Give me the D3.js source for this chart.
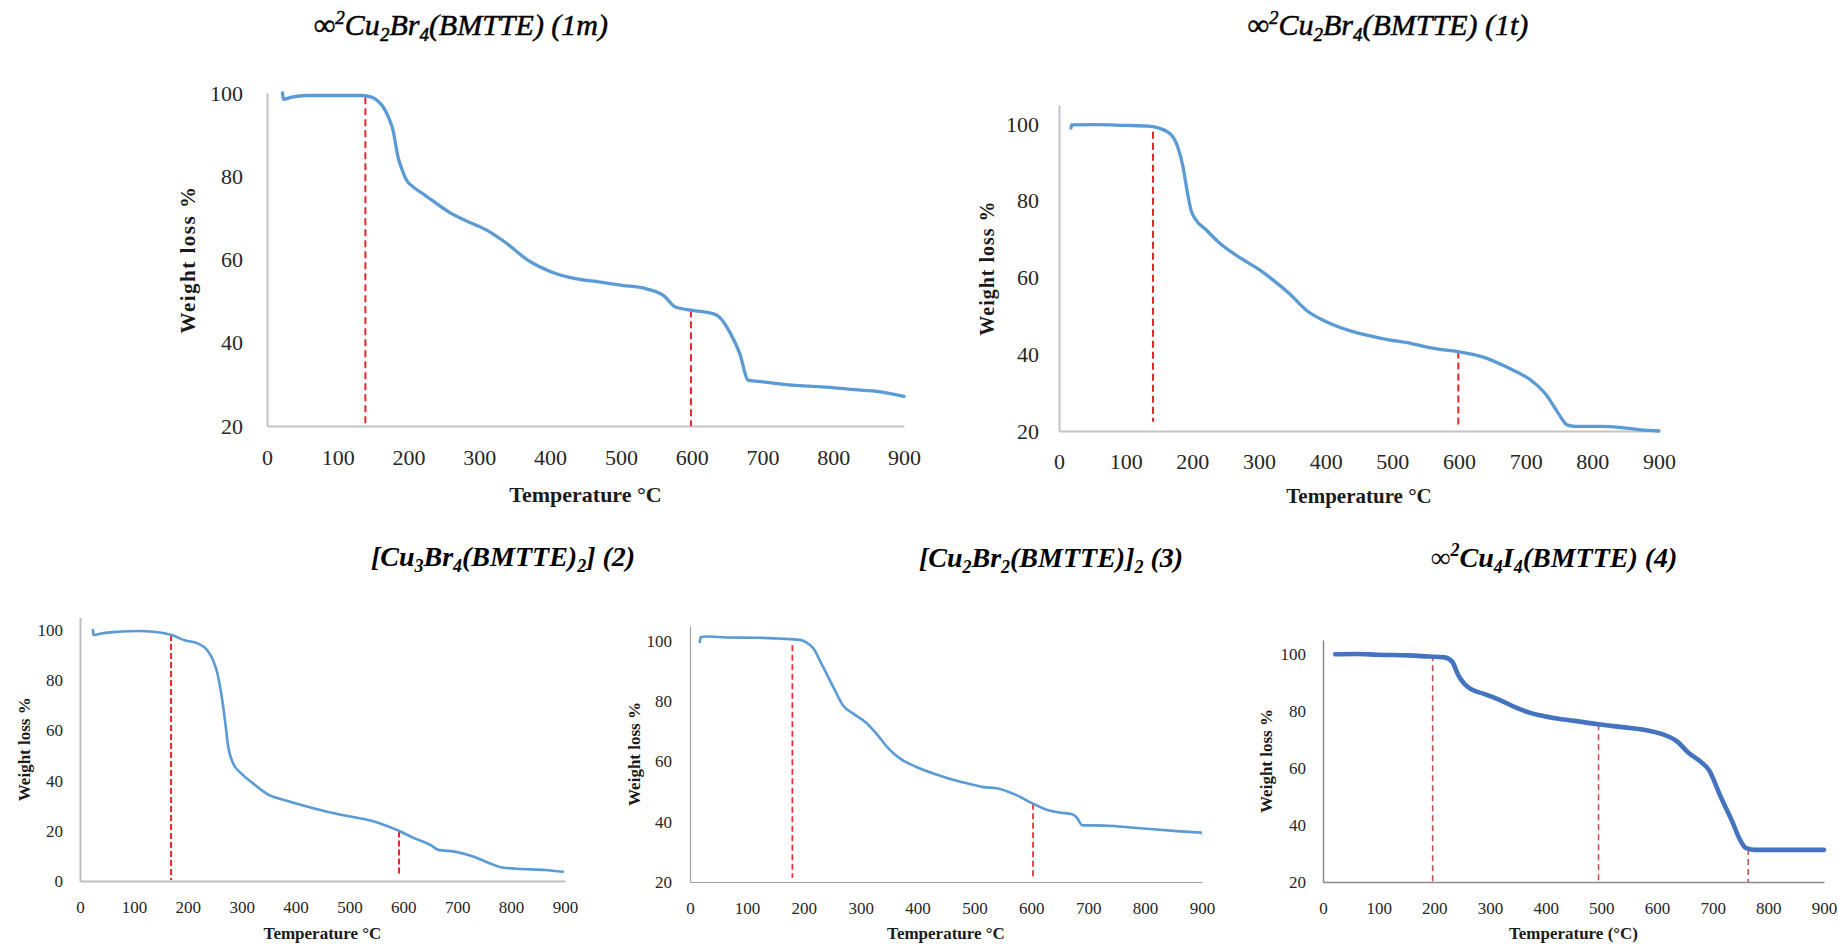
<!DOCTYPE html>
<html>
<head>
<meta charset="utf-8">
<script src="https://cdn.jsdelivr.net/npm/d3@7"></script>
<style>
  body { margin: 0; background: #fff; }
  text { font-family: "Liberation Serif", "Times New Roman", serif; }
</style>
</head>
<body>
<script>
// tick values shared by all five panels
let xTicks = [0, 100, 200, 300, 400, 500, 600, 700, 800, 900]
let yTicks20 = [20, 40, 60, 80, 100]
let yTicks0 = [0, 20, 40, 60, 80, 100]

// (1m)
let temp1m = [22, 23, 35, 56, 90, 134, 148, 157, 164, 172, 178, 185, 191, 197, 206, 222, 259, 280, 311, 336,
  369, 402, 436, 469, 502, 535, 560, 577, 601, 630, 639, 655, 668, 680, 701, 742, 784, 825, 867, 900]
let weight1m = [100, 98.5, 99.0, 99.4, 99.4, 99.4, 99.0, 98.0, 96.7, 94.0, 91.1, 84.7, 81.5, 79.1, 77.5, 75.6, 71.2, 69.4, 67.0, 64.2,
  59.8, 57.0, 55.4, 54.6, 53.8, 53.0, 51.4, 48.6, 47.8, 47.0, 46.2, 42.2, 37.4, 31.0, 30.6, 29.8, 29.4, 28.8, 28.2, 27.1]
let markT1m = [139, 599]
let markTop1m = [99.0, 47.8]
let markBot1m = [20, 20]

// (1t)
let temp1t = [18, 19, 54, 98, 134, 151, 169, 178, 186, 192, 198, 204, 221, 239, 265, 301, 318, 345, 371, 406,
  441, 485, 529, 564, 599, 634, 670, 714, 731, 749, 762, 775, 810, 845, 872, 900]
let weight1t = [99.0, 99.8, 99.9, 99.7, 99.5, 98.9, 97.1, 94.1, 88.9, 82.8, 77.6, 75.4, 72.4, 69.3, 65.9, 62.0, 59.8, 55.9, 51.5, 48.1,
  45.9, 44.1, 42.8, 41.5, 40.7, 39.4, 36.8, 32.4, 29.4, 24.6, 21.6, 21.2, 21.2, 20.9, 20.3, 20.0]
let markT1t = [141, 599]
let markTop1t = [98.0, 40.7]
let markBot1t = [22.4, 20.7]

// (2)
let temp2 = [24, 25, 42, 71, 108, 137, 170, 196, 218, 236, 247, 255, 262, 269, 275, 284, 299, 321, 350, 379,
  423, 467, 504, 541, 585, 621, 651, 665, 695, 731, 761, 783, 819, 863, 896]
let weight2 = [100, 98.0, 98.7, 99.3, 99.6, 99.3, 98.0, 95.8, 94.7, 92.0, 88.0, 82.7, 74.8, 64.1, 53.5, 46.9, 42.9, 38.9, 34.3, 32.3,
  29.6, 27.2, 25.6, 24.0, 20.6, 17.0, 14.3, 12.4, 11.7, 9.7, 7.0, 5.4, 4.8, 4.4, 3.7]
let markT2 = [169, 592]
let markTop2 = [98.0, 19.7]
let markBot2 = [0.4, 2.4]

// (3)
let temp3 = [17, 19, 30, 65, 120, 158, 193, 203, 217, 231, 252, 269, 287, 308, 328, 349, 370, 398, 433, 467,
  502, 516, 537, 571, 603, 627, 648, 672, 679, 690, 710, 745, 780, 815, 856, 898]
let weight3 = [99.7, 101.3, 101.5, 101.2, 101.1, 100.8, 100.4, 99.7, 97.5, 92.5, 84.7, 78.6, 75.9, 73.1, 69.2, 64.3, 60.9, 58.2, 55.7, 53.7,
  52.1, 51.5, 51.2, 49.1, 46.0, 44.0, 43.1, 42.5, 41.6, 38.8, 38.8, 38.6, 38.0, 37.5, 36.9, 36.4]
let markT3 = [180, 603]
let markTop3 = [98.6, 46.0]
let markBot3 = [21.4, 21.7]

// (4)
let temp4 = [22, 62, 98, 154, 190, 218, 232, 243, 253, 268, 289, 317, 346, 374, 409, 452, 494, 537, 579, 608,
  636, 657, 678, 693, 714, 735, 749, 760, 777, 841, 900]
let weight4 = [100, 100.1, 99.8, 99.6, 99.2, 98.9, 97.4, 92.7, 89.8, 87.5, 86.1, 84.0, 81.3, 79.3, 77.8, 76.6, 75.4, 74.4, 73.4, 72.0,
  69.4, 65.3, 62.3, 59.4, 50.1, 41.3, 34.9, 31.9, 31.3, 31.3, 31.3]
let markT4 = [197, 495, 764]
let markTop4 = [99.6, 75.4, 31.6]
let markBot4 = [20, 20, 20]

// titles: [text, kind] kind: n normal, sub, sup
let title1m = [["∞", "n"], ["2", "sup"], ["Cu", "n"], ["2", "sub"], ["Br", "n"], ["4", "sub"], ["(BMTTE) (1m)", "n"]]
let title1t = [["∞", "n"], ["2", "sup"], ["Cu", "n"], ["2", "sub"], ["Br", "n"], ["4", "sub"], ["(BMTTE) (1t)", "n"]]
let title2 = [["[Cu", "n"], ["3", "sub"], ["Br", "n"], ["4", "sub"], ["(BMTTE)", "n"], ["2", "sub"], ["] (2)", "n"]]
let title3 = [["[Cu", "n"], ["2", "sub"], ["Br", "n"], ["2", "sub"], ["(BMTTE)]", "n"], ["2", "sub"], [" (3)", "n"]]
let title4 = [["∞", "n"], ["2", "sup"], ["Cu", "n"], ["4", "sub"], ["I", "n"], ["4", "sub"], ["(BMTTE) (4)", "n"]]

let panels = [
  { temp: temp1m, weight: weight1m, mT: markT1m, mTop: markTop1m, mBot: markBot1m, title: title1m,
    left: 267, right: 904, bottom: 426, top: 93, yDom: [20, 100], yTicks: yTicks20,
    tickFs: 22, yPad: 24, xPad: 23.5, labFs: 21, labLs: 1.5, yLabOff: 79, xLabY: 495, xLab: "Temperature °C", xLabFs: 22,
    titleX: 461, titleY: 35, titleFs: 30, titleBold: false,
    axisCol: "#c4c4c4", axisW: 2, lineCol: "#5b9bd5", lineW: 3.3, dashCol: "#e3262a", dashW: 2, dash: "7,4" },
  { temp: temp1t, weight: weight1t, mT: markT1t, mTop: markTop1t, mBot: markBot1t, title: title1t,
    left: 1059, right: 1659, bottom: 431, top: 105, yDom: [20, 105], yTicks: yTicks20,
    tickFs: 22, yPad: 20, xPad: 22.5, labFs: 20, labLs: 1, yLabOff: 72, xLabY: 497, xLab: "Temperature °C", xLabFs: 21,
    titleX: 1388, titleY: 35, titleFs: 30, titleBold: false,
    axisCol: "#c4c4c4", axisW: 2, lineCol: "#5b9bd5", lineW: 3.3, dashCol: "#e3262a", dashW: 2, dash: "7,4" },
  { temp: temp2, weight: weight2, mT: markT2, mTop: markTop2, mBot: markBot2, title: title2,
    left: 80, right: 565, bottom: 881, top: 617.5, yDom: [0, 105], yTicks: yTicks0,
    tickFs: 17, yPad: 17, xPad: 19.5, labFs: 17, labLs: 0, yLabOff: 56, xLabY: 934, xLab: "Temperature °C", xLabFs: 17,
    titleX: 503, titleY: 566, titleFs: 28, titleBold: true,
    axisCol: "#bdbdbd", axisW: 2, lineCol: "#5b9bd5", lineW: 2.6, dashCol: "#e3262a", dashW: 2, dash: "6,3" },
  { temp: temp3, weight: weight3, mT: markT3, mTop: markTop3, mBot: markBot3, title: title3,
    left: 690, right: 1202, bottom: 882, top: 626, yDom: [20, 105], yTicks: yTicks20,
    tickFs: 17, yPad: 18, xPad: 19.5, labFs: 17, labLs: 0, yLabOff: 56, xLabY: 934, xLab: "Temperature °C", xLabFs: 17,
    titleX: 1051, titleY: 567, titleFs: 28, titleBold: true,
    axisCol: "#a0a0a0", axisW: 1.2, lineCol: "#5b9bd5", lineW: 2.6, dashCol: "#e8323a", dashW: 1.8, dash: "6,3.5" },
  { temp: temp4, weight: weight4, mT: markT4, mTop: markTop4, mBot: markBot4, title: title4,
    left: 1323, right: 1824, bottom: 882, top: 640, yDom: [20, 105], yTicks: yTicks20,
    tickFs: 17, yPad: 17, xPad: 19.5, labFs: 17, labLs: 0, yLabOff: 57, xLabY: 934, xLab: "Temperature (°C)", xLabFs: 17,
    titleX: 1554, titleY: 567, titleFs: 28, titleBold: true,
    axisCol: "#8a8a8a", axisW: 1.5, lineCol: "#4474bf", lineW: 4.6, dashCol: "#c0504d", dashW: 1.6, dash: "6,4" }
]

let svg = d3.select("body").append("svg")
  .attr("width", 1838)
  .attr("height", 946)

panels.forEach(p => {
  let x = d3.scaleLinear().domain([0, 900]).range([p.left, p.right])
  let y = d3.scaleLinear().domain(p.yDom).range([p.bottom, p.top])
  let g = svg.append("g")

  // axes
  let ax = g.append("g")
    .attr("transform", `translate(0,${p.bottom})`)
    .call(d3.axisBottom(x).tickValues(xTicks).tickSize(0).tickSizeOuter(0).tickPadding(p.xPad))
  let ay = g.append("g")
    .attr("transform", `translate(${p.left},0)`)
    .call(d3.axisLeft(y).tickValues(p.yTicks).tickSize(0).tickSizeOuter(0).tickPadding(p.yPad))
  ;[ax, ay].forEach(a => {
    a.select(".domain").attr("stroke", p.axisCol).attr("stroke-width", p.axisW)
    a.selectAll("text")
      .style("font-family", '"Liberation Serif", serif')
      .style("font-size", p.tickFs + "px")
      .attr("fill", "#262626")
  })

  // dashed markers
  g.selectAll(".mark").data(p.mT).enter().append("line")
    .attr("x1", d => x(d)).attr("x2", d => x(d))
    .attr("y1", (d, i) => y(p.mTop[i]))
    .attr("y2", (d, i) => y(p.mBot[i]))
    .attr("stroke", p.dashCol)
    .attr("stroke-width", p.dashW)
    .attr("stroke-dasharray", p.dash)

  // TGA curve
  let pts = p.temp.map((t, i) => [t, p.weight[i]])
  g.append("path")
    .datum(pts)
    .attr("fill", "none")
    .attr("stroke", p.lineCol)
    .attr("stroke-width", p.lineW)
    .attr("stroke-linejoin", "round")
    .attr("stroke-linecap", "round")
    .attr("d", d3.line().x(d => x(d[0])).y(d => y(d[1])).curve(d3.curveMonotoneX))

  // axis titles
  g.append("text")
    .attr("x", (p.left + p.right) / 2)
    .attr("y", p.xLabY)
    .attr("dy", "0.3em")
    .attr("text-anchor", "middle")
    .style("font-size", p.xLabFs + "px")
    .style("font-weight", "bold")
    .attr("fill", "#1a1a1a")
    .text(p.xLab)

  let midY = (p.top + p.bottom) / 2
  g.append("text")
    .attr("transform", `translate(${p.left - p.yLabOff},${midY}) rotate(-90)`)
    .attr("dy", "0.35em")
    .attr("text-anchor", "middle")
    .style("font-size", p.labFs + "px")
    .style("font-weight", "bold")
    .style("letter-spacing", p.labLs + "px")
    .attr("fill", "#1a1a1a")
    .text("Weight loss %")

  // chart title
  let tt = g.append("text")
    .attr("x", p.titleX)
    .attr("y", p.titleY)
    .attr("text-anchor", "middle")
    .style("font-size", p.titleFs + "px")
    .style("font-style", "italic")
    .style("font-weight", p.titleBold ? "bold" : "normal")
    .attr("fill", "#000")
  // upper row titles are medium weight: thicken slightly
  if (!p.titleBold) tt.attr("stroke", "#000").attr("stroke-width", 0.5)
  let small = Math.round(p.titleFs * 0.63)
  p.title.forEach(([s, k]) => {
    let sp = tt.append("tspan").text(s)
    if (k == "sub") sp.style("font-size", small + "px").attr("baseline-shift", "-6")
    if (k == "sup") sp.style("font-size", small + "px").attr("baseline-shift", "11")
  })
})
</script>
</body>
</html>
